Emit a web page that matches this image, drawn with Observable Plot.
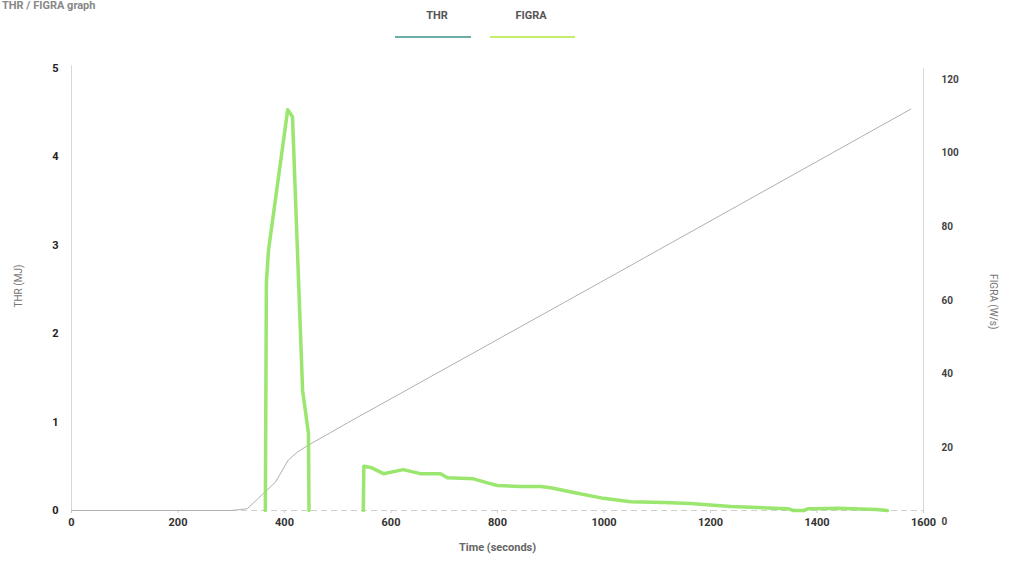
<!DOCTYPE html>
<html>
<head>
<meta charset="utf-8">
<script src="https://cdn.jsdelivr.net/npm/d3@7"></script>
<script src="https://cdn.jsdelivr.net/npm/@observablehq/plot@0.6"></script>
<style>
  html, body { margin: 0; padding: 0; background: #fff; overflow: hidden; }
  body { width: 1013px; height: 569px; font-family: Roboto, "DejaVu Sans", sans-serif; }
  #top { position: relative; height: 45px; width: 1013px; }
  #title { position: absolute; left: 2px; top: 0px; font-size: 11px; line-height: 12px; font-weight: bold; color: #888; }
  .lg { position: absolute; top: 9px; font-size: 11px; color: #555; text-align: center; font-family: "Liberation Sans Narrow", "Roboto", sans-serif; font-weight: bold; }
  .lgline { position: absolute; top: 36px; height: 2px; }
  #chart svg { display: block; }
</style>
</head>
<body>
<div id="top">
  <div id="title">THR / FIGRA graph</div>
  <div class="lg" id="lg1" style="left:420px;width:34px;"></div>
  <div class="lgline" style="left:395px;width:76px;background:#6aaea5;"></div>
  <div class="lg" id="lg2" style="left:508px;width:46px;"></div>
  <div class="lgline" style="left:490px;width:85px;background:#c6ec6c;"></div>
</div>
<div id="chart"></div>
<script>
// ---- data ----
const seriesNames = ["THR", "FIGRA"];
const xTicks = [0, 200, 400, 600, 800, 1000, 1200, 1400, 1600];
const thrTicks = [0, 1, 2, 3, 4, 5];
const figraTicks = [0, 20, 40, 60, 80, 100, 120];

// THR (MJ) vs time (s)
const thrTime = [0, 100, 200, 300, 330, 360, 383, 407, 424, 445, 486, 518, 993, 1576];
const thrValue = [0, 0, 0, 0, 0.02, 0.19, 0.32, 0.57, 0.66, 0.74, 0.88, 0.99, 2.58, 4.54];

// FIGRA (W/s) vs time (s), drawn as two separate pieces
const figraPiece = [1, 1, 1, 1, 1, 1, 1, 1,
  2, 2, 2, 2, 2, 2, 2, 2, 2, 2, 2, 2, 2, 2, 2, 2, 2, 2, 2, 2, 2, 2, 2, 2, 2, 2, 2, 2];
const figraTime = [364, 366, 370, 406, 415, 434, 445, 446,
  548, 549, 562, 586, 623, 655, 693, 706, 755, 781, 800, 843, 881, 900, 943, 999, 1050, 1112, 1162, 1238, 1345, 1356, 1375, 1384, 1393, 1438, 1512, 1532];
const figraValue = [0, 62, 70.7, 108.8, 106.9, 32.6, 20.9, 0,
  0, 12.0, 11.7, 10.0, 11.1, 10.0, 10.0, 8.9, 8.6, 7.5, 6.8, 6.5, 6.5, 6.2, 4.9, 3.3, 2.4, 2.2, 1.9, 1.1, 0.5, 0, 0, 0.5, 0.5, 0.6, 0.3, 0];

document.getElementById("lg1").textContent = seriesNames[0];
document.getElementById("lg2").textContent = seriesNames[1];

const thr = thrTime.map((t, i) => ({t, v: thrValue[i]}));
const figra = figraTime.map((t, i) => ({t, v: figraValue[i], piece: figraPiece[i]}));
const k = 24; // FIGRA units per THR unit on the right axis

const chart = Plot.plot({
  width: 1013,
  height: 524,
  marginLeft: 71,
  marginRight: 90,
  marginTop: 23,
  marginBottom: 59,
  style: {fontFamily: "Roboto, 'DejaVu Sans', sans-serif", fontSize: "11px", color: "#333"},
  x: {domain: [0, 1600]},
  y: {domain: [0, 5]},
  marks: [
    Plot.ruleX([0], {stroke: "#d8d8d8", y1: 0, y2: 5.03}),
    Plot.ruleX([1600], {stroke: "#d8d8d8", y1: 0, y2: 5}),
    Plot.ruleY([0], {stroke: "#cfcfcf", strokeDasharray: "6,4"}),
    Plot.axisX({ticks: xTicks, tickFormat: d => String(d), tickSize: 3, tickPadding: 5, stroke: "#ccc", fill: "#333", fontWeight: "bold", label: null}),
    Plot.axisY({ticks: thrTicks, tickFormat: d => String(d), anchor: "left", tickSize: 0, tickPadding: 13, fill: "#222", fontWeight: "bold", fontSize: 11, label: null}),
    Plot.axisY({ticks: figraTicks.map(d => d / k), tickFormat: d => String(Math.round(d * k)), anchor: "right", tickSize: 0, tickPadding: 18, dy: 11, fill: "#444", fontWeight: "bold", fontSize: 10, label: null}),
    Plot.text(["Time (seconds)"], {frameAnchor: "bottom", dy: 40, fill: "#666", fontWeight: "bold", fontSize: 11}),
    Plot.text(["THR (MJ)"], {frameAnchor: "left", dx: -53, dy: 18, rotate: -90, fill: "#777", fontSize: 10}),
    Plot.text(["FIGRA (W/s)"], {frameAnchor: "right", dx: 70, dy: 40, rotate: 90, fill: "#777", fontSize: 10}),
    Plot.line(thr, {x: "t", y: "v", stroke: "#b0b0b0", strokeWidth: 1}),
    Plot.line(figra, {x: "t", y: d => d.v / k, z: "piece", stroke: "#8fe35e", strokeWidth: 3.5, strokeOpacity: 0.9, curve: "linear"})
  ]
});
document.getElementById("chart").appendChild(chart);
</script>
</body>
</html>
